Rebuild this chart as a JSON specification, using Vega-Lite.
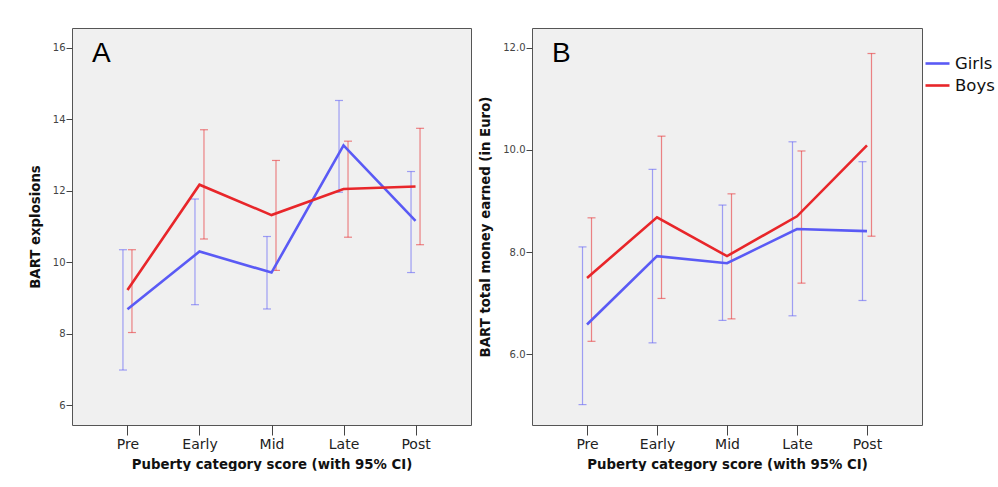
{
  "$schema": "https://vega.github.io/schema/vega-lite/v6.json",
  "padding": {"left": 27, "top": 27, "right": 0, "bottom": 0},
  "background": "white",
  "spacing": 6,
  "datasets": {
    "bart": [
      {"cat": "Pre", "sex": "Girls", "mean": 8.68, "lo": 6.98, "hi": 10.35},
      {"cat": "Early", "sex": "Girls", "mean": 10.30, "lo": 8.81, "hi": 11.77},
      {"cat": "Mid", "sex": "Girls", "mean": 9.71, "lo": 8.69, "hi": 10.72},
      {"cat": "Late", "sex": "Girls", "mean": 13.27, "lo": 11.96, "hi": 14.53},
      {"cat": "Post", "sex": "Girls", "mean": 11.16, "lo": 9.71, "hi": 12.54},
      {"cat": "Pre", "sex": "Boys", "mean": 9.22, "lo": 8.03, "hi": 10.35},
      {"cat": "Early", "sex": "Boys", "mean": 12.17, "lo": 10.65, "hi": 13.71},
      {"cat": "Mid", "sex": "Boys", "mean": 11.32, "lo": 9.77, "hi": 12.85},
      {"cat": "Late", "sex": "Boys", "mean": 12.05, "lo": 10.70, "hi": 13.39},
      {"cat": "Post", "sex": "Boys", "mean": 12.12, "lo": 10.49, "hi": 13.75}
    ],
    "money": [
      {"cat": "Pre", "sex": "Girls", "mean": 6.58, "lo": 5.01, "hi": 8.10},
      {"cat": "Early", "sex": "Girls", "mean": 7.92, "lo": 6.22, "hi": 9.62},
      {"cat": "Mid", "sex": "Girls", "mean": 7.78, "lo": 6.66, "hi": 8.92},
      {"cat": "Late", "sex": "Girls", "mean": 8.45, "lo": 6.75, "hi": 10.16},
      {"cat": "Post", "sex": "Girls", "mean": 8.41, "lo": 7.05, "hi": 9.77},
      {"cat": "Pre", "sex": "Boys", "mean": 7.49, "lo": 6.25, "hi": 8.67},
      {"cat": "Early", "sex": "Boys", "mean": 8.68, "lo": 7.09, "hi": 10.27},
      {"cat": "Mid", "sex": "Boys", "mean": 7.92, "lo": 6.69, "hi": 9.14},
      {"cat": "Late", "sex": "Boys", "mean": 8.70, "lo": 7.39, "hi": 9.98},
      {"cat": "Post", "sex": "Boys", "mean": 10.09, "lo": 8.31, "hi": 11.89}
    ]
  },
  "resolve": {"legend": {"color": "independent"}},
  "hconcat": [
    {
      "width": 399,
      "height": 397,
      "data": {"name": "bart"},
      "title": {"text": "A", "anchor": "start", "frame": "group", "orient": "top", "offset": -62, "dx": 20, "baseline": "alphabetic", "fontSize": 28, "fontWeight": "normal", "font": "Liberation Sans", "color": "#000"},
      "encoding": {
        "x": {"field": "cat", "type": "ordinal", "sort": ["Pre", "Early", "Mid", "Late", "Post"], "scale": {"type": "point", "padding": 0.77}, "axis": {"title": "Puberty category score (with 95% CI)"}}
      },
      "layer": [
        {
          "transform": [{"filter": "datum.sex === 'Girls'"}],
          "layer": [
            {"mark": {"type": "rule", "xOffset": -4.5, "strokeWidth": 1.2, "opacity": 0.55},
             "encoding": {"y": {"field": "lo", "type": "quantitative"}, "y2": {"field": "hi"}, "color": {"field": "sex", "type": "nominal", "legend": null}}},
            {"mark": {"type": "tick", "xOffset": -4.5, "size": 8, "thickness": 1.2, "opacity": 0.55},
             "encoding": {"y": {"field": "lo", "type": "quantitative"}, "color": {"field": "sex", "type": "nominal", "legend": null}}},
            {"mark": {"type": "tick", "xOffset": -4.5, "size": 8, "thickness": 1.2, "opacity": 0.55},
             "encoding": {"y": {"field": "hi", "type": "quantitative"}, "color": {"field": "sex", "type": "nominal", "legend": null}}}
          ]
        },
        {
          "transform": [{"filter": "datum.sex === 'Boys'"}],
          "layer": [
            {"mark": {"type": "rule", "xOffset": 4.5, "strokeWidth": 1.2, "opacity": 0.55},
             "encoding": {"y": {"field": "lo", "type": "quantitative"}, "y2": {"field": "hi"}, "color": {"field": "sex", "type": "nominal", "legend": null}}},
            {"mark": {"type": "tick", "xOffset": 4.5, "size": 8, "thickness": 1.2, "opacity": 0.55},
             "encoding": {"y": {"field": "lo", "type": "quantitative"}, "color": {"field": "sex", "type": "nominal", "legend": null}}},
            {"mark": {"type": "tick", "xOffset": 4.5, "size": 8, "thickness": 1.2, "opacity": 0.55},
             "encoding": {"y": {"field": "hi", "type": "quantitative"}, "color": {"field": "sex", "type": "nominal", "legend": null}}}
          ]
        },
        {
          "mark": {"type": "line", "strokeWidth": 2.6},
          "encoding": {
            "y": {"field": "mean", "type": "quantitative", "scale": {"domain": [5.44, 16.56], "nice": false, "zero": false}, "axis": {"title": "BART explosions", "values": [6, 8, 10, 12, 14, 16]}},
            "color": {"field": "sex", "type": "nominal", "scale": {"domain": ["Girls", "Boys"], "range": ["#5a5af5", "#e8262a"]}, "legend": null}
          }
        }
      ]
    },
    {
      "width": 390,
      "height": 397,
      "data": {"name": "money"},
      "title": {"text": "B", "anchor": "start", "frame": "group", "orient": "top", "offset": -62, "dx": 20, "baseline": "alphabetic", "fontSize": 28, "fontWeight": "normal", "font": "Liberation Sans", "color": "#000"},
      "encoding": {
        "x": {"field": "cat", "type": "ordinal", "sort": ["Pre", "Early", "Mid", "Late", "Post"], "scale": {"type": "point", "padding": 0.786}, "axis": {"title": "Puberty category score (with 95% CI)"}},
        "color": {"field": "sex", "type": "nominal", "scale": {"domain": ["Girls", "Boys"], "range": ["#5a5af5", "#e8262a"]},
          "legend": {"orient": "none", "legendX": 392, "legendY": 22, "title": null, "symbolType": "stroke", "symbolSize": 576, "symbolStrokeWidth": 2.6, "symbolOpacity": 1, "labelFontSize": 16.5, "labelFont": "DejaVu Sans", "labelColor": "#111", "rowPadding": -6, "labelOffset": 4, "padding": 0}}
      },
      "layer": [
        {
          "transform": [{"filter": "datum.sex === 'Girls'"}],
          "layer": [
            {"mark": {"type": "rule", "xOffset": -4.5, "strokeWidth": 1.2, "opacity": 0.55},
             "encoding": {"y": {"field": "lo", "type": "quantitative"}, "y2": {"field": "hi"}}},
            {"mark": {"type": "tick", "xOffset": -4.5, "size": 8, "thickness": 1.2, "opacity": 0.55},
             "encoding": {"y": {"field": "lo", "type": "quantitative"}}},
            {"mark": {"type": "tick", "xOffset": -4.5, "size": 8, "thickness": 1.2, "opacity": 0.55},
             "encoding": {"y": {"field": "hi", "type": "quantitative"}}}
          ]
        },
        {
          "transform": [{"filter": "datum.sex === 'Boys'"}],
          "layer": [
            {"mark": {"type": "rule", "xOffset": 4.5, "strokeWidth": 1.2, "opacity": 0.55},
             "encoding": {"y": {"field": "lo", "type": "quantitative"}, "y2": {"field": "hi"}}},
            {"mark": {"type": "tick", "xOffset": 4.5, "size": 8, "thickness": 1.2, "opacity": 0.55},
             "encoding": {"y": {"field": "lo", "type": "quantitative"}}},
            {"mark": {"type": "tick", "xOffset": 4.5, "size": 8, "thickness": 1.2, "opacity": 0.55},
             "encoding": {"y": {"field": "hi", "type": "quantitative"}}}
          ]
        },
        {
          "mark": {"type": "line", "strokeWidth": 2.6},
          "encoding": {
            "y": {"field": "mean", "type": "quantitative", "scale": {"domain": [4.61, 12.39], "nice": false, "zero": false}, "axis": {"title": "BART total money earned (in Euro)", "values": [6, 8, 10, 12], "format": ".1f"}}
          }
        }
      ]
    }
  ],
  "config": {
    "view": {"fill": "#f0f0f0", "stroke": "#555555", "strokeWidth": 1},
    "axis": {"grid": false, "domain": false, "tickColor": "#444444", "titleFont": "DejaVu Sans", "titleFontWeight": "bold", "titleFontSize": 13.3, "titleColor": "#111111", "labelFont": "DejaVu Sans"},
    "axisX": {"tickSize": 10, "labelFontSize": 14, "labelColor": "#222222", "labelPadding": 2, "titlePadding": 6, "labelAngle": 0},
    "axisY": {"tickSize": 6, "labelFontSize": 10, "labelColor": "#444444", "labelPadding": 1, "titlePadding": 10}
  }
}
